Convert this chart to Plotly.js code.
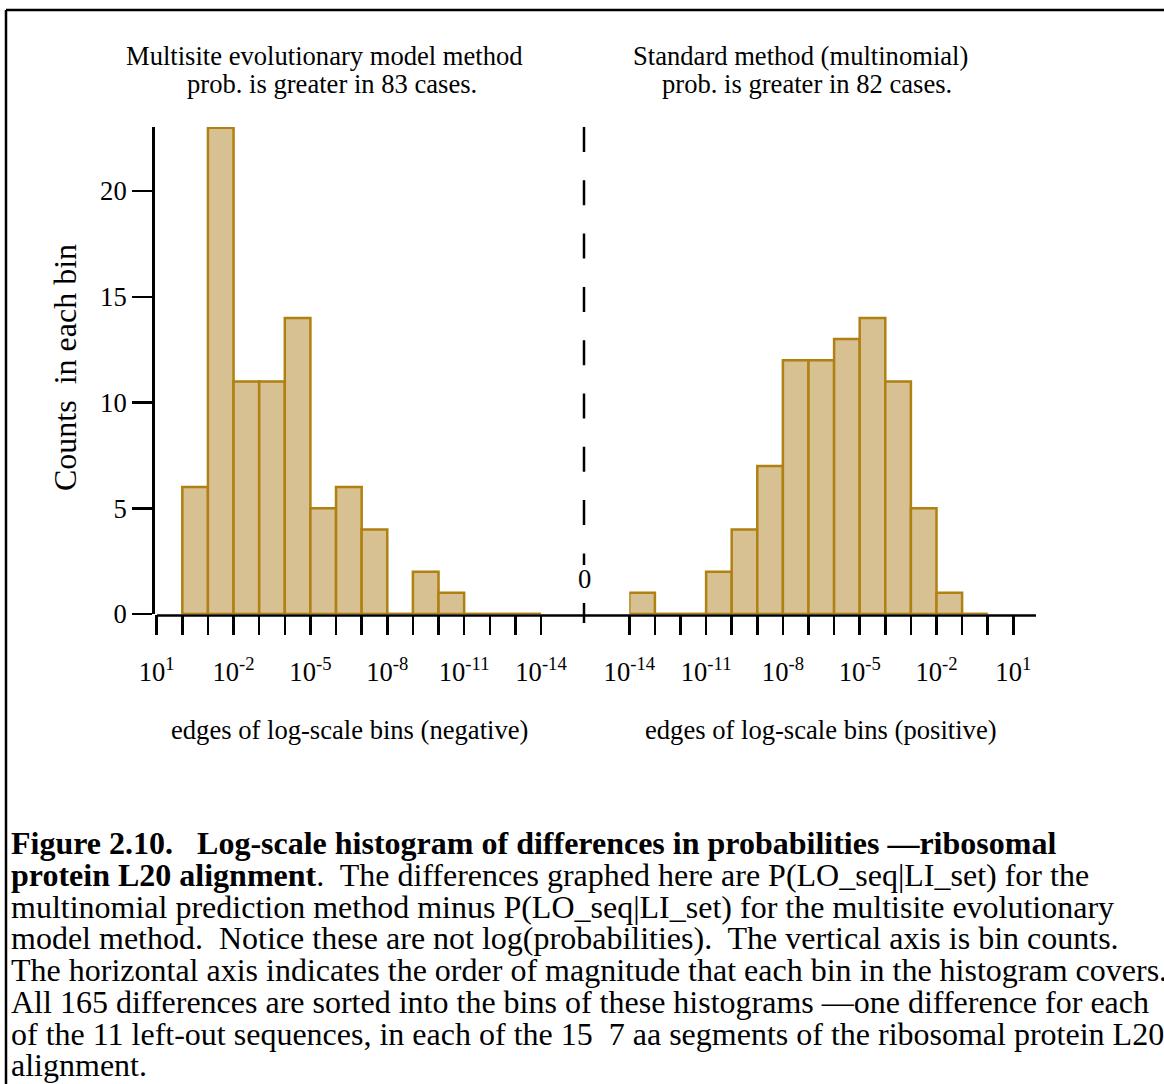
<!DOCTYPE html>
<html>
<head>
<meta charset="utf-8">
<script src="https://cdn.plot.ly/plotly-3.0.1.min.js"></script>
<style>
  html, body { margin: 0; padding: 0; background: #fff; }
  #chart { width: 1164px; height: 1084px; }
</style>
</head>
<body>
<div id="chart"></div>
<script>
// ---------------- DATA ----------------
// Left histogram (negative differences): bins run from 10^1 down to 10^-14.
// Each bin starts at exponent leftBinStartExp[i] and ends one decade lower.
const leftBinStartExp = [1, 0, -1, -2, -3, -4, -5, -6, -7, -8, -9, -10, -11, -12, -13];
const leftCounts      = [null, 6, 23, 11, 11, 14, 5, 6, 4, 0, 2, 1, 0, 0, 0];

// Right histogram (positive differences): bins run from 10^-14 up to 10^1.
// Each bin starts at exponent rightBinStartExp[i] and ends one decade higher.
const rightBinStartExp = [-14, -13, -12, -11, -10, -9, -8, -7, -6, -5, -4, -3, -2, -1, 0];
const rightCounts      = [1, 0, 0, 2, 4, 7, 12, 12, 13, 14, 11, 5, 1, 0, null];

// Tick marks (every decade) and which ones carry a label
const leftTickExp  = [1, 0, -1, -2, -3, -4, -5, -6, -7, -8, -9, -10, -11, -12, -13, -14];
const rightTickExp = [-14, -13, -12, -11, -10, -9, -8, -7, -6, -5, -4, -3, -2, -1, 0, 1];
const leftLabeledExp  = [1, -2, -5, -8, -11, -14];
const rightLabeledExp = [-14, -11, -8, -5, -2, 1];

const yTickVals = [0, 5, 10, 15, 20];

const titleLeft  = ["Multisite evolutionary model method", "prob. is greater in 83 cases."];
const titleRight = ["Standard method (multinomial)", "prob. is greater in 82 cases."];
const xTitleLeft  = "edges of log-scale bins (negative)";
const xTitleRight = "edges of log-scale bins (positive)";
const yTitle = "Counts\u00a0 in each bin";
const zeroLabel = "0";

const captionLines = [
  "<b>Figure 2.10.\u00a0\u00a0 Log-scale histogram of differences in probabilities \u2014ribosomal</b>",
  "<b>protein L20 alignment</b>.\u00a0 The differences graphed here are P(LO_seq|LI_set) for the",
  "multinomial prediction method minus P(LO_seq|LI_set) for the multisite evolutionary",
  "model method.\u00a0 Notice these are not log(probabilities).\u00a0 The vertical axis is bin counts.",
  "The horizontal axis indicates the order of magnitude that each bin in the histogram covers.",
  "All 165 differences are sorted into the bins of these histograms \u2014one difference for each",
  "of the 11 left-out sequences, in each of the 15\u00a0 7 aa segments of the ribosomal protein L20",
  "alignment."
];

// ---------------- STYLE / LAYOUT HELPERS ----------------
const W = 1164, H = 1084;
const px = x => x / W;
const py = y => 1 - y / H;
const FONT = "Liberation Serif, 'Times New Roman', Times, serif";
const FILL = "rgb(215,192,146)";
const EDGE = "rgb(176,128,16)";
const FS = 26.6;
const CAP_FS = 32;

const tickText = exps => exps.map(e => "10<sup>" + e + "</sup>");

function zeroSegments(starts, counts, dir) {
  const xs = [], ys = [];
  counts.forEach((c, i) => {
    if (c === 0) {
      xs.push(starts[i], starts[i] + dir, null);
      ys.push(0, 0, null);
    }
  });
  return {xs, ys};
}

const yMaxRange = 23.03;

const leftZero = zeroSegments(leftBinStartExp, leftCounts, -1);
const rightZero = zeroSegments(rightBinStartExp, rightCounts, 1);

const traces = [
  {
    type: "bar", xaxis: "x", yaxis: "y",
    x: leftBinStartExp.map(s => s - 0.5), y: leftCounts, width: 1,
    marker: {color: FILL, line: {color: EDGE, width: 2.5}},
    hoverinfo: "skip"
  },
  {
    type: "scatter", mode: "lines", xaxis: "x", yaxis: "y",
    x: leftZero.xs, y: leftZero.ys, line: {color: EDGE, width: 2.5},
    hoverinfo: "skip", cliponaxis: false
  },
  {
    type: "bar", xaxis: "x2", yaxis: "y",
    x: rightBinStartExp.map(s => s + 0.5), y: rightCounts, width: 1,
    marker: {color: FILL, line: {color: EDGE, width: 2.5}},
    hoverinfo: "skip"
  },
  {
    type: "scatter", mode: "lines", xaxis: "x2", yaxis: "y",
    x: rightZero.xs, y: rightZero.ys, line: {color: EDGE, width: 2.5},
    hoverinfo: "skip", cliponaxis: false
  }
];

function xAxis(domain, range, allExp, labeledExp) {
  return {
    domain: domain, range: range, anchor: "y",
    showgrid: false, zeroline: false, showline: false,
    tickmode: "array", tickvals: labeledExp, ticktext: tickText(labeledExp),
    ticks: "outside", ticklen: 20, tickwidth: 2.5, tickcolor: "#000",
    ticklabelstandoff: 14,
    tickfont: {family: FONT, size: FS, color: "#000"},
    minor: {tickmode: "array", tickvals: allExp, ticks: "outside",
            ticklen: 20, tickwidth: 2.5, tickcolor: "#000", showgrid: false},
    fixedrange: true
  };
}

const layout = {
  width: W, height: H,
  margin: {l: 0, r: 0, t: 0, b: 0, pad: 0},
  paper_bgcolor: "#fff", plot_bgcolor: "rgba(0,0,0,0)",
  showlegend: false, hovermode: false,
  font: {family: FONT, color: "#000", size: FS},
  xaxis: xAxis([px(156.7), px(541)], [1, -14], leftTickExp, leftLabeledExp),
  xaxis2: xAxis([px(629.3), px(1013.3)], [-14, 1], rightTickExp, rightLabeledExp),
  yaxis: {
    domain: [py(614), py(127)], range: [0, yMaxRange],
    anchor: "free", position: px(153),
    showgrid: false, zeroline: false,
    showline: true, linecolor: "#000", linewidth: 2.5,
    ticks: "outside", ticklen: 20, tickwidth: 2.5, tickcolor: "#000",
    tickmode: "array", tickvals: yTickVals,
    tickfont: {family: FONT, size: FS, color: "#000"},
    fixedrange: true
  },
  yaxis2: {
    overlaying: "y", side: "right", range: [0, yMaxRange],
    anchor: "free", position: px(1016),
    showgrid: false, zeroline: false,
    showline: true, linecolor: "#000", linewidth: 2.5,
    ticks: "outside", ticklen: 20, tickwidth: 2.5, tickcolor: "#000",
    tickmode: "array", tickvals: yTickVals, showticklabels: false,
    fixedrange: true
  },
  shapes: [
    // frame
    {type: "line", xref: "paper", yref: "paper", x0: px(6), x1: px(1164), y0: py(10), y1: py(10), line: {color: "#000", width: 2.5}},
    {type: "line", xref: "paper", yref: "paper", x0: px(6), x1: px(6), y0: py(10), y1: py(1084), line: {color: "#000", width: 2.5}},
    // baseline
    {type: "line", xref: "paper", yref: "paper", x0: px(157), x1: px(1036), y0: py(615.5), y1: py(615.5), line: {color: "#000", width: 2.5}},
    // dashed separator
    {type: "line", xref: "paper", yref: "paper", x0: px(584), x1: px(584), y0: py(127), y1: py(565), line: {color: "#000", width: 2.5, dash: "25px,28.3px"}},
    {type: "line", xref: "paper", yref: "paper", x0: px(584), x1: px(584), y0: py(603), y1: py(623), line: {color: "#000", width: 2.5}}
  ],
  annotations: []
};

function addText(text, x, y, opts) {
  layout.annotations.push(Object.assign({
    text: text, xref: "paper", yref: "paper", x: px(x), y: py(y),
    showarrow: false, xanchor: "center", yanchor: "middle",
    font: {family: FONT, size: FS, color: "#000"}
  }, opts || {}));
}

addText(titleLeft[0], 324.5, 56);
addText(titleLeft[1], 332, 84);
addText(titleRight[0], 800, 56);
addText(titleRight[1], 807, 84);
addText(xTitleLeft, 349, 730);
addText(xTitleRight, 821, 730);
addText(zeroLabel, 584, 579);
addText(yTitle, 65, 368, {textangle: -90, font: {family: FONT, size: 32, color: "#000"}});

captionLines.forEach((t, i) => {
  addText(t, 9, 843 + i * 31.75, {xanchor: "left", align: "left",
    font: {family: FONT, size: CAP_FS, color: "#000"}});
});

Plotly.newPlot("chart", traces, layout, {displayModeBar: false, staticPlot: true});
</script>
</body>
</html>
